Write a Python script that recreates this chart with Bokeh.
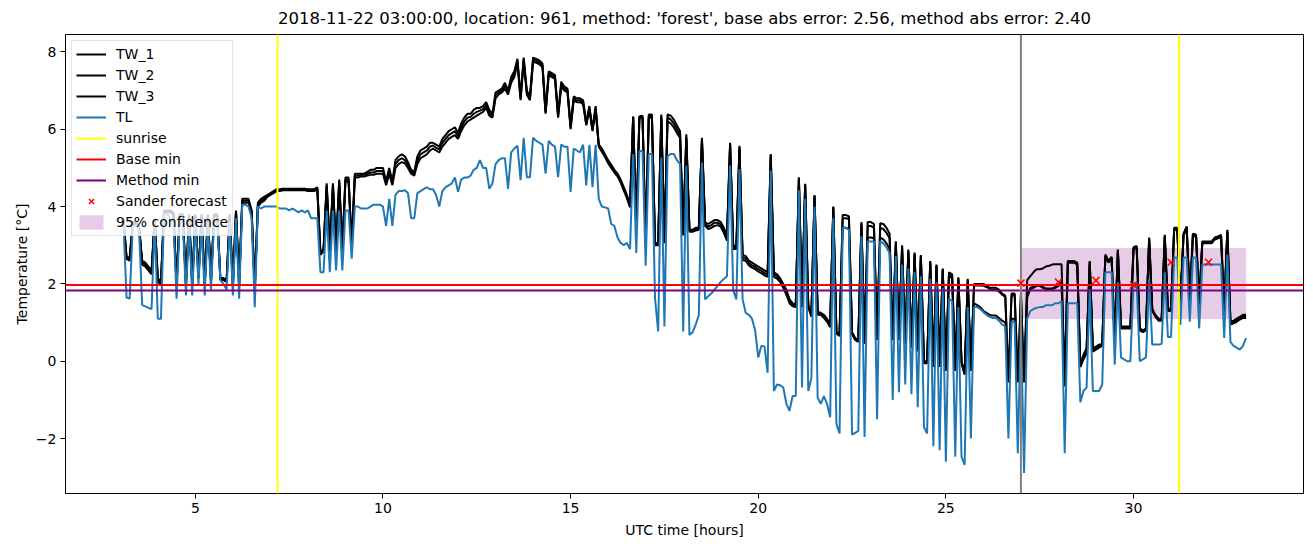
import pandas as pd
from bokeh.plotting import figure
from bokeh.models import (Span, Legend, LegendItem, SingleIntervalTicker,
                          CustomJSTickFormatter, Range1d)
from bokeh.embed import file_html
from bokeh.resources import INLINE

# ---------------- data (5-minute samples from 03:05 UTC) ----------------
TL = [
    3.6, 1.65, 1.62, 3.5, 3.5, 3.4, 1.45, 1.42, 1.38, 1.35,
    3.6, 1.1, 1.1, 3.8, 3.8, 3.7, 3.6, 1.62, 3.6, 3.6,
    1.7, 3.6, 1.7, 3.6, 2.0, 3.5, 1.7, 3.6, 1.85, 3.6,
    3.6, 2.1, 2.0, 1.85, 3.6, 1.7, 3.7, 1.62, 4.05, 4.05,
    4.0, 3.7, 1.4, 4.0, 3.95, 4.0, 4.0, 4.0, 4.0, 4.0,
    3.95, 3.95, 3.95, 3.9, 3.95, 3.9, 3.85, 3.9, 3.85, 3.9,
    3.7, 3.7, 3.7, 2.3, 2.3, 3.9, 2.3, 3.9, 2.35, 3.9,
    2.35, 3.9, 3.9, 2.65, 4.0, 4.0, 3.95, 3.95, 3.95, 4.0,
    4.05, 4.05, 4.05, 4.0, 3.5, 4.2, 3.5, 4.3, 4.4, 4.4,
    4.42, 4.35, 3.7, 3.7, 4.35, 4.4, 4.45, 4.5, 4.45, 4.45,
    4.3, 4.0, 4.4, 4.5, 4.55, 4.6, 4.75, 4.38, 4.7, 4.75,
    4.75, 4.8, 4.95, 5.0, 5.2, 5.0, 5.0, 4.46, 4.6, 5.1,
    5.2, 5.25, 5.25, 4.46, 5.4, 5.5, 5.57, 4.68, 5.78, 4.76,
    4.76, 5.78, 5.7, 5.65, 5.6, 4.85, 5.7, 5.6, 5.55, 4.76,
    5.6, 5.55, 5.55, 4.38, 5.5, 5.45, 5.4, 5.6, 4.55, 5.6,
    4.5, 5.6, 4.2, 4.0, 3.98, 3.95, 3.55, 3.5, 3.2, 3.06,
    3.0, 3.06, 2.9, 5.36, 2.8, 5.44, 5.44, 2.47, 5.36, 5.36,
    1.62, 0.77, 5.27, 0.9, 5.3, 5.36, 5.36, 5.2, 5.1, 0.77,
    5.06, 0.68, 0.75, 0.95, 1.19, 5.14, 1.6, 1.68, 1.75, 1.85,
    1.95, 2.05, 2.13, 2.2, 5.06, 1.83, 1.6, 4.97, 1.6, 1.25,
    1.2, 1.1, 0.8, 0.1, 0.4, 0.38, -0.3, 4.93, -0.77, -0.6,
    -0.62, -0.68, -1.1, -1.28, -0.9, -0.9, 4.42, -0.68, 4.2, -0.77,
    -0.43, 4.0, -0.94, -1.1, -0.9, -1.1, -1.45, 3.7, -1.62, -1.87,
    3.45, 3.45, 3.4, -1.9, -1.85, -1.8, 3.23, -1.96, 3.1, 3.1,
    3.1, -1.5, 3.1, 3.05, 2.95, 2.8, -1.0, 2.72, -0.8, 2.5,
    -0.6, 2.4, -0.85, 2.3, -1.19, 2.2, -1.7, -1.87, 2.13, -2.2,
    2.04, -2.3, 1.9, -2.6, 1.62, 1.55, -2.47, 1.4, -2.47, -2.68,
    1.4, -2.0, 1.4, 1.4, 1.35, 1.27, 1.2, 1.15, 1.12, 1.12,
    1.05, 0.95, 0.9, -2.0, 1.02, 1.02, -2.38, 1.02, -2.89, 1.1,
    1.3, 1.35, 1.38, 1.4, 1.4, 1.45, 1.45, 1.45, 1.5, 1.5,
    1.55, -2.38, 1.5, 1.5, 1.5, 1.5, -1.06, -0.77, -0.68, 1.87,
    -0.77, -0.77, -0.77, -0.6, 2.3, 2.3, 2.3, -0.09, 2.04, 0.1,
    0.05, 0.0, 0.0, 2.0, 2.04, 0.0, 0.05, 0.1, 2.13, 0.43,
    0.43, 0.43, 0.45, 2.3, 0.63, 0.63, 2.68, 2.68, 0.94, 2.68,
    2.68, 1.02, 2.68, 2.68, 0.85, 2.5, 2.5, 2.5, 2.5, 2.5,
    2.5, 2.5, 0.6, 2.76, 0.5, 0.4, 0.35, 0.3, 0.4, 0.6,
]

TW_1 = [
    3.7, 2.7, 2.68, 3.6, 3.6, 3.5, 2.6, 2.55, 2.45, 2.35,
    3.7, 2.15, 2.05, 3.9, 3.9, 3.9, 3.85, 2.0, 3.8, 3.8,
    2.0, 3.8, 2.0, 3.8, 2.2, 3.8, 2.0, 3.8, 2.1, 3.8,
    3.8, 2.15, 2.15, 2.1, 3.8, 2.0, 3.9, 2.0, 4.2, 4.2,
    4.2, 3.9, 1.9, 4.1, 4.2, 4.25, 4.3, 4.35, 4.4, 4.45,
    4.45, 4.46, 4.46, 4.46, 4.46, 4.46, 4.46, 4.46, 4.46, 4.45,
    4.45, 4.45, 4.5, 2.8, 2.9, 4.6, 2.9, 4.6, 2.9, 4.7,
    2.9, 4.75, 4.75, 3.0, 4.85, 4.85, 4.85, 4.85, 4.9, 4.95,
    4.95, 5.0, 5.0, 5.0, 4.65, 5.0, 4.65, 5.2, 5.3, 5.35,
    5.3, 5.15, 4.95, 4.9, 5.3, 5.45, 5.5, 5.55, 5.65, 5.65,
    5.6, 5.55, 5.75, 5.85, 5.95, 6.0, 6.05, 5.9, 6.15, 6.3,
    6.4, 6.4, 6.5, 6.55, 6.55, 6.6, 6.7, 6.5, 6.4, 6.95,
    7.0, 7.05, 7.2, 7.0, 7.35, 7.5, 7.82, 6.85, 7.85, 7.0,
    6.85, 7.85, 7.82, 7.78, 7.7, 6.46, 7.5, 7.45, 7.4, 6.38,
    7.23, 7.1, 7.05, 6.08, 6.85, 6.8, 6.8, 6.75, 6.16, 6.6,
    6.0, 6.6, 5.61, 5.5, 5.35, 5.2, 5.08, 4.95, 4.85, 4.7,
    4.5, 4.3, 4.05, 6.33, 3.5, 6.33, 6.35, 3.1, 6.38, 6.38,
    3.06, 3.06, 6.38, 3.1, 6.38, 6.35, 6.25, 6.1, 5.95, 3.3,
    5.87, 3.4, 3.4, 3.45, 3.45, 5.78, 3.6, 3.55, 3.6, 3.65,
    3.65, 3.6, 3.45, 3.25, 5.65, 2.98, 2.98, 5.57, 2.75, 2.72,
    2.6, 2.55, 2.5, 2.45, 2.4, 2.35, 2.3, 5.36, 2.3, 2.25,
    2.15, 2.0, 1.85, 1.6, 1.5, 1.45, 4.76, 1.45, 4.59, 1.45,
    1.2, 4.3, 1.28, 1.25, 1.2, 1.1, 0.94, 4.0, 0.77, 0.7,
    3.78, 3.78, 3.75, 0.75, 0.6, 0.55, 3.6, 0.5, 3.6, 3.6,
    3.55, 0.6, 3.57, 3.55, 3.45, 3.3, 0.6, 3.1, 0.6, 3.0,
    0.5, 2.89, 0.4, 2.81, 0.3, 2.75, 0.0, 0.0, 2.59, -0.1,
    2.5, -0.1, 2.4, -0.2, 2.3, 2.25, -0.2, 2.17, 0.0, -0.3,
    2.13, -0.2, 2.0, 2.0, 2.0, 2.0, 1.95, 1.9, 1.9, 1.9,
    1.85, 1.75, 1.7, -0.5, 1.75, 1.75, -0.5, 1.75, -0.5, 2.1,
    2.2, 2.3, 2.38, 2.38, 2.4, 2.45, 2.47, 2.5, 2.51, 2.51,
    2.51, -0.6, 2.59, 2.59, 2.59, 2.55, -0.1, 0.17, 0.34, 2.59,
    0.34, 0.38, 0.43, 0.45, 2.76, 2.6, 2.7, 0.5, 2.89, 0.9,
    0.9, 0.9, 0.9, 2.95, 2.98, 0.85, 0.8, 0.85, 3.2, 1.35,
    1.2, 1.1, 1.1, 3.27, 1.36, 1.36, 3.45, 3.45, 1.5, 3.3,
    3.49, 1.6, 3.3, 3.27, 1.5, 3.1, 3.1, 3.1, 3.1, 3.2,
    3.23, 3.27, 1.3, 3.4, 1.02, 1.05, 1.1, 1.15, 1.2, 1.2,
]

TW_2 = [
    3.65, 2.65, 2.6, 3.55, 3.55, 3.45, 2.5, 2.45, 2.35, 2.25,
    3.65, 2.05, 1.98, 3.85, 3.85, 3.85, 3.8, 1.95, 3.75, 3.75,
    1.95, 3.75, 1.95, 3.75, 2.15, 3.75, 1.95, 3.75, 2.05, 3.75,
    3.75, 2.1, 2.1, 2.05, 3.75, 1.95, 3.85, 1.95, 4.1, 4.1,
    4.1, 3.85, 1.85, 4.0, 4.1, 4.15, 4.25, 4.3, 4.35, 4.4,
    4.4, 4.42, 4.42, 4.42, 4.42, 4.42, 4.42, 4.42, 4.42, 4.4,
    4.4, 4.4, 4.45, 2.75, 2.85, 4.5, 2.85, 4.5, 2.85, 4.6,
    2.85, 4.65, 4.65, 2.95, 4.75, 4.75, 4.78, 4.78, 4.8, 4.82,
    4.82, 4.85, 4.85, 4.85, 4.55, 4.85, 4.55, 5.0, 5.1, 5.15,
    5.12, 5.0, 4.85, 4.8, 5.1, 5.25, 5.3, 5.35, 5.45, 5.5,
    5.45, 5.4, 5.55, 5.65, 5.75, 5.8, 5.85, 5.75, 5.95, 6.1,
    6.2, 6.25, 6.3, 6.35, 6.4, 6.45, 6.55, 6.35, 6.3, 6.8,
    6.9, 6.95, 7.05, 6.9, 7.2, 7.35, 7.7, 6.75, 7.75, 6.9,
    6.75, 7.75, 7.72, 7.68, 7.6, 6.4, 7.4, 7.35, 7.3, 6.3,
    7.1, 7.0, 6.95, 6.0, 6.75, 6.7, 6.7, 6.65, 6.1, 6.5,
    5.95, 6.5, 5.55, 5.42, 5.28, 5.12, 5.0, 4.88, 4.78, 4.62,
    4.42, 4.22, 3.98, 6.3, 3.45, 6.3, 6.3, 3.05, 6.3, 6.3,
    3.0, 3.0, 6.3, 3.05, 6.2, 6.15, 6.05, 5.9, 5.78, 3.25,
    5.75, 3.35, 3.35, 3.38, 3.4, 5.7, 3.5, 3.42, 3.45, 3.5,
    3.52, 3.48, 3.32, 3.12, 5.6, 2.9, 2.9, 5.5, 2.62, 2.6,
    2.48, 2.42, 2.38, 2.32, 2.28, 2.22, 2.18, 5.3, 2.18, 2.14,
    2.05, 1.9, 1.72, 1.5, 1.42, 1.4, 4.7, 1.4, 4.55, 1.4,
    1.15, 4.25, 1.2, 1.2, 1.12, 1.02, 0.88, 3.95, 0.72, 0.65,
    3.45, 3.45, 3.42, 0.7, 0.55, 0.5, 3.5, 0.45, 3.2, 3.2,
    3.18, 0.55, 3.2, 3.15, 3.05, 2.9, 0.55, 3.0, 0.55, 2.9,
    0.45, 2.8, 0.35, 2.75, 0.25, 2.7, -0.05, -0.05, 2.55, -0.15,
    2.45, -0.15, 2.35, -0.25, 2.2, 2.15, -0.25, 2.1, -0.05, -0.35,
    2.05, -0.25, 1.5, 1.45, 1.4, 1.3, 1.25, 1.2, 1.18, 1.18,
    1.12, 1.05, 1.0, -0.55, 1.1, 1.1, -0.55, 1.1, -0.55, 1.65,
    1.87, 1.9, 1.95, 1.95, 1.9, 1.87, 1.87, 1.87, 1.9, 1.95,
    2.0, -0.65, 2.55, 2.55, 2.55, 2.5, -0.15, 0.05, 0.2, 2.55,
    0.25, 0.3, 0.35, 0.4, 2.7, 2.55, 2.65, 0.45, 2.85, 0.85,
    0.85, 0.85, 0.85, 2.9, 2.95, 0.8, 0.75, 0.8, 3.15, 1.3,
    1.15, 1.05, 1.05, 3.22, 1.3, 1.3, 3.4, 3.4, 1.45, 3.25,
    3.45, 1.55, 3.25, 3.22, 1.45, 3.05, 3.05, 3.05, 3.05, 3.15,
    3.18, 3.22, 1.25, 3.35, 0.95, 0.98, 1.02, 1.08, 1.12, 1.12,
]

TW_3 = [
    3.68, 2.68, 2.65, 3.58, 3.58, 3.48, 2.55, 2.5, 2.4, 2.3,
    3.68, 2.1, 2.02, 3.88, 3.88, 3.88, 3.82, 1.98, 3.78, 3.78,
    1.98, 3.78, 1.98, 3.78, 2.18, 3.78, 1.98, 3.78, 2.08, 3.78,
    3.78, 2.12, 2.12, 2.08, 3.78, 1.98, 3.88, 1.98, 4.15, 4.15,
    4.15, 3.88, 1.88, 4.05, 4.15, 4.2, 4.28, 4.32, 4.38, 4.42,
    4.42, 4.44, 4.44, 4.44, 4.44, 4.44, 4.44, 4.44, 4.44, 4.42,
    4.42, 4.42, 4.48, 2.78, 2.88, 4.55, 2.88, 4.55, 2.88, 4.65,
    2.88, 4.7, 4.7, 2.98, 4.8, 4.8, 4.82, 4.82, 4.85, 4.88,
    4.88, 4.92, 4.92, 4.92, 4.6, 4.92, 4.6, 5.1, 5.2, 5.25,
    5.2, 5.08, 4.9, 4.85, 5.2, 5.35, 5.4, 5.45, 5.55, 5.58,
    5.52, 5.48, 5.65, 5.75, 5.85, 5.9, 5.95, 5.82, 6.05, 6.2,
    6.3, 6.32, 6.4, 6.45, 6.48, 6.52, 6.62, 6.42, 6.35, 6.88,
    6.95, 7.0, 7.12, 6.95, 7.28, 7.42, 7.76, 6.8, 7.8, 6.95,
    6.8, 7.8, 7.77, 7.73, 7.65, 6.43, 7.45, 7.4, 7.35, 6.34,
    7.16, 7.05, 7.0, 6.04, 6.8, 6.75, 6.75, 6.7, 6.13, 6.55,
    5.98, 6.55, 5.58, 5.46, 5.32, 5.16, 5.04, 4.92, 4.82, 4.66,
    4.46, 4.26, 4.02, 6.32, 3.48, 6.32, 6.32, 3.08, 6.34, 6.34,
    3.03, 3.03, 6.34, 3.08, 6.3, 6.25, 6.15, 6.0, 5.86, 3.28,
    5.8, 3.38, 3.38, 3.42, 3.42, 5.74, 3.55, 3.48, 3.52, 3.58,
    3.58, 3.54, 3.38, 3.18, 5.62, 2.94, 2.94, 5.54, 2.68, 2.66,
    2.54, 2.48, 2.44, 2.38, 2.34, 2.28, 2.24, 5.33, 2.24, 2.2,
    2.1, 1.95, 1.78, 1.55, 1.46, 1.42, 4.73, 1.42, 4.57, 1.42,
    1.18, 4.28, 1.24, 1.22, 1.16, 1.06, 0.91, 3.98, 0.75, 0.68,
    3.7, 3.7, 3.68, 0.72, 0.58, 0.52, 3.55, 0.48, 3.5, 3.5,
    3.45, 0.58, 3.45, 3.42, 3.32, 3.18, 0.58, 3.05, 0.58, 2.95,
    0.48, 2.85, 0.38, 2.78, 0.28, 2.72, -0.02, -0.02, 2.57, -0.12,
    2.48, -0.12, 2.38, -0.22, 2.25, 2.2, -0.22, 2.14, -0.02, -0.32,
    2.1, -0.22, 1.96, 1.96, 1.96, 1.95, 1.92, 1.87, 1.85, 1.85,
    1.8, 1.72, 1.66, -0.52, 1.7, 1.7, -0.52, 1.7, -0.52, 1.7,
    1.9, 1.92, 1.97, 1.97, 1.92, 1.88, 1.88, 1.88, 1.92, 1.97,
    2.05, -0.62, 2.57, 2.57, 2.57, 2.52, -0.12, 0.1, 0.27, 2.57,
    0.3, 0.34, 0.39, 0.42, 2.73, 2.58, 2.68, 0.48, 2.87, 0.88,
    0.88, 0.88, 0.88, 2.92, 2.96, 0.82, 0.78, 0.82, 3.18, 1.32,
    1.18, 1.08, 1.08, 3.25, 1.33, 1.33, 3.42, 3.42, 1.48, 3.28,
    3.47, 1.58, 3.28, 3.25, 1.48, 3.08, 3.08, 3.08, 3.08, 3.18,
    3.2, 3.25, 1.28, 3.38, 1.0, 1.02, 1.06, 1.12, 1.17, 1.17,
]

sunrise_hours = [7.19, 31.21]
forecast_start_hour = 27.0
base_min = 1.97
method_min = 1.83
forecast_hours = [27.0, 28.0, 29.0, 30.0, 31.0, 32.0]
forecast_values = [2.02, 2.05, 2.09, 1.97, 2.56, 2.56]
conf_hours = [27.0, 33.0]
conf_low = [1.09, 1.09]
conf_high = [2.93, 2.93]

title = ("2018-11-22 03:00:00, location: 961, method: 'forest', "
         "base abs error: 2.56, method abs error: 2.40")

# ---------------- time axis ----------------
times = pd.date_range("2018-11-21 03:05", periods=360, freq="5min")
hours = list((times - pd.Timestamp("2018-11-21")) / pd.Timedelta(hours=1))

FONT = "DejaVu Sans"
NAN = float("nan")

p = figure(width=1310, height=545, output_backend="svg", toolbar_location=None,
           x_range=Range1d(1.54, 34.53), y_range=Range1d(-3.42, 8.45),
           min_border_left=65, min_border_right=7, min_border_top=33,
           min_border_bottom=52, background_fill_color="white",
           border_fill_color="white")

p.title.text = title
p.title.align = "center"
p.title.text_font = FONT
p.title.text_font_size = "16.5px"
p.title.text_font_style = "normal"
p.title.text_color = "black"
p.title.standoff = 13

p.xgrid.visible = False
p.ygrid.visible = False
p.outline_line_color = "black"
p.outline_line_width = 1

p.xaxis.ticker = SingleIntervalTicker(interval=5)
p.yaxis.ticker = SingleIntervalTicker(interval=2)
p.yaxis.formatter = CustomJSTickFormatter(
    code="return (tick < 0 ? '\u2212' : '') + Math.abs(tick).toString();")
p.xaxis.axis_label = "UTC time [hours]"
p.yaxis.axis_label = "Temperature [\u00b0C]"
for ax in (p.xaxis, p.yaxis):
    ax.axis_label_text_font = FONT
    ax.axis_label_text_font_size = "14px"
    ax.axis_label_text_font_style = "normal"
    ax.axis_label_text_color = "black"
    ax.major_label_text_font = FONT
    ax.major_label_text_font_size = "14px"
    ax.major_label_text_color = "black"
    ax.axis_line_color = "black"
    ax.major_tick_line_color = "black"
    ax.major_tick_in = 0
    ax.major_tick_out = 5
    ax.minor_tick_line_color = None
    ax.major_label_standoff = 4
    ax.axis_label_standoff = 6
p.yaxis.axis_label_standoff = 3

# confidence band (under the lines)
r_conf = p.varea(x=conf_hours, y1=conf_low, y2=conf_high,
                 fill_color="purple", fill_alpha=0.2)

r_tw1 = p.line(hours[:len(TW_1)], TW_1, line_color="black", line_width=2)
r_tw2 = p.line(hours[:len(TW_2)], TW_2, line_color="black", line_width=2)
r_tw3 = p.line(hours[:len(TW_3)], TW_3, line_color="black", line_width=2)
r_tl = p.line(hours[:len(TL)], TL, line_color="#1f77b4", line_width=2)

for h in sunrise_hours:
    p.add_layout(Span(location=h, dimension="height", line_color="yellow",
                      line_width=2))
p.add_layout(Span(location=base_min, dimension="width", line_color="red",
                  line_width=2))
p.add_layout(Span(location=method_min, dimension="width", line_color="purple",
                  line_width=2))
p.add_layout(Span(location=forecast_start_hour, dimension="height",
                  line_color="gray", line_width=2))

r_fc = p.scatter(forecast_hours, forecast_values, marker="x", size=10,
                 line_color="red", line_width=1.5, level="overlay")

# legend-only proxies (one NaN point, nothing drawn in the plot)
r_sun = p.line([NAN], [NAN], line_color="yellow", line_width=2)
r_base = p.line([NAN], [NAN], line_color="red", line_width=2)
r_meth = p.line([NAN], [NAN], line_color="purple", line_width=2)

legend = Legend(items=[
    LegendItem(label="TW_1", renderers=[r_tw1]),
    LegendItem(label="TW_2", renderers=[r_tw2]),
    LegendItem(label="TW_3", renderers=[r_tw3]),
    LegendItem(label="TL", renderers=[r_tl]),
    LegendItem(label="sunrise", renderers=[r_sun]),
    LegendItem(label="Base min", renderers=[r_base]),
    LegendItem(label="Method min", renderers=[r_meth]),
    LegendItem(label="Sander forecast", renderers=[r_fc]),
    LegendItem(label="95% confidence", renderers=[r_conf]),
], location="top_left")
legend.label_text_font = FONT
legend.label_text_font_size = "14px"
legend.label_text_color = "black"
legend.glyph_width = 30
legend.glyph_height = 18
legend.label_height = 18
legend.spacing = 3
legend.padding = 4
legend.margin = 6
legend.label_standoff = 10
legend.border_line_color = "#cccccc"
legend.border_line_width = 1
legend.background_fill_alpha = 0.8
p.add_layout(legend)

open("out.html", "w").write(file_html(p, INLINE))
